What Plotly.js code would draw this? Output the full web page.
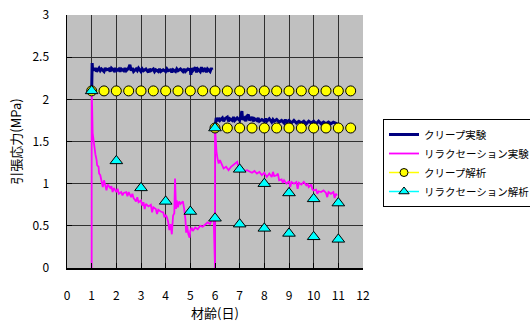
<!DOCTYPE html>
<html>
<head>
<meta charset="utf-8">
<script src="https://cdn.plot.ly/plotly-3.0.1.min.js"></script>
<style>html,body{margin:0;padding:0;background:#fff;}#chart{width:530px;height:325px;}</style>
</head>
<body>
<div id="chart"></div>
<script>
// Series names
var seriesNames = ['クリープ実験', 'リラクセーション実験', 'クリープ解析', 'リラクセーション解析'];
var xTickVals = [0,1,2,3,4,5,6,7,8,9,10,11,12];
var yTickVals = [0,0.5,1,1.5,2,2.5,3];

// Creep experiment (two loading stages), [day, MPa]
var creepExp1 = [[1.00,2.10],[1.00,2.36],[1.02,2.43],[1.04,2.34],[1.07,2.37],[1.10,2.34],[1.15,2.37],[1.20,2.33],[1.25,2.36],[1.30,2.37],[1.35,2.34],[1.40,2.36],[1.50,2.33],[1.55,2.37],[1.60,2.35],[1.70,2.36],[1.75,2.33],[1.80,2.37],[1.90,2.34],[1.95,2.37],[2.00,2.34],[2.10,2.36],[2.15,2.33],[2.20,2.36],[2.30,2.34],[2.35,2.37],[2.40,2.34],[2.50,2.37],[2.55,2.41],[2.60,2.34],[2.65,2.37],[2.70,2.33],[2.80,2.36],[2.85,2.34],[2.90,2.37],[3.00,2.33],[3.05,2.36],[3.10,2.34],[3.20,2.36],[3.30,2.32],[3.35,2.36],[3.40,2.34],[3.50,2.36],[3.55,2.33],[3.60,2.35],[3.70,2.33],[3.75,2.36],[3.80,2.33],[3.90,2.35],[4.00,2.33],[4.05,2.36],[4.10,2.34],[4.20,2.35],[4.25,2.32],[4.30,2.35],[4.40,2.33],[4.45,2.36],[4.50,2.34],[4.60,2.36],[4.70,2.33],[4.75,2.36],[4.80,2.33],[4.90,2.36],[5.00,2.35],[5.02,2.29],[5.05,2.37],[5.10,2.34],[5.20,2.38],[5.25,2.32],[5.30,2.36],[5.40,2.33],[5.45,2.38],[5.50,2.33],[5.60,2.37],[5.65,2.32],[5.70,2.36],[5.80,2.33],[5.85,2.37],[5.88,2.35]];
var creepExp2 = [[6.00,1.66],[6.02,1.74],[6.05,1.78],[6.10,1.74],[6.15,1.78],[6.20,1.75],[6.30,1.78],[6.35,1.74],[6.40,1.77],[6.50,1.79],[6.55,1.74],[6.60,1.77],[6.70,1.75],[6.75,1.79],[6.80,1.75],[6.90,1.78],[7.00,1.75],[7.05,1.80],[7.09,1.86],[7.12,1.76],[7.20,1.78],[7.25,1.74],[7.30,1.80],[7.35,1.82],[7.40,1.75],[7.50,1.79],[7.55,1.74],[7.60,1.77],[7.70,1.75],[7.75,1.78],[7.80,1.74],[7.90,1.76],[8.00,1.74],[8.05,1.77],[8.10,1.74],[8.20,1.77],[8.30,1.73],[8.35,1.76],[8.40,1.74],[8.50,1.76],[8.60,1.73],[8.70,1.75],[8.80,1.72],[8.85,1.76],[8.90,1.73],[9.00,1.75],[9.10,1.72],[9.20,1.75],[9.30,1.72],[9.40,1.74],[9.50,1.72],[9.60,1.74],[9.70,1.71],[9.80,1.74],[9.90,1.72],[10.00,1.74],[10.10,1.71],[10.20,1.74],[10.30,1.71],[10.40,1.73],[10.50,1.71],[10.60,1.73],[10.70,1.71],[10.80,1.73],[10.95,1.71]];

// Relaxation experiment, [day, MPa]
var relaxExp = [[1.0,0],[1.0,2.1],[1.02,1.9],[1.04,1.6],[1.06,1.55],[1.08,1.45],[1.12,1.40],[1.15,1.35],[1.2,1.28],[1.22,1.22],[1.28,1.2],[1.3,1.12],[1.35,1.1],[1.4,1.02],[1.45,0.96],[1.5,1.04],[1.55,0.98],[1.6,0.92],[1.65,0.99],[1.75,0.95],[1.8,0.97],[1.85,0.9],[1.9,0.95],[1.96,0.92],[2.0,0.9],[2.05,0.94],[2.1,0.88],[2.2,0.9],[2.25,0.86],[2.3,0.89],[2.4,0.9],[2.45,0.85],[2.5,0.9],[2.6,0.84],[2.65,0.88],[2.7,0.83],[2.8,0.79],[2.85,0.84],[2.9,0.78],[3.0,0.8],[3.05,0.74],[3.1,0.78],[3.15,0.7],[3.2,0.76],[3.3,0.73],[3.4,0.75],[3.45,0.66],[3.5,0.72],[3.6,0.7],[3.65,0.64],[3.7,0.69],[3.8,0.67],[3.9,0.66],[3.95,0.6],[4.0,0.63],[4.05,0.6],[4.1,0.55],[4.15,0.45],[4.2,0.52],[4.25,0.4],[4.3,0.62],[4.35,0.65],[4.38,1.06],[4.42,0.7],[4.45,0.8],[4.5,0.72],[4.55,0.79],[4.6,0.76],[4.7,0.79],[4.75,0.7],[4.8,0.58],[4.83,0.42],[4.87,0.5],[4.92,0.4],[4.97,0.36],[5.0,0.44],[5.05,0.48],[5.1,0.44],[5.2,0.48],[5.3,0.46],[5.4,0.5],[5.5,0.49],[5.6,0.52],[5.7,0.54],[5.8,0.52],[5.88,0.58],[5.95,0.56],[6.0,0],[6.0,1.68],[6.03,1.5],[6.06,1.38],[6.1,1.3],[6.15,1.24],[6.2,1.28],[6.3,1.22],[6.35,1.18],[6.45,1.2],[6.55,1.16],[6.65,1.2],[6.75,1.22],[6.85,1.24],[6.9,1.26],[6.95,1.2],[7.0,1.16],[7.1,1.18],[7.2,1.15],[7.3,1.16],[7.4,1.14],[7.5,1.13],[7.6,1.15],[7.7,1.12],[7.8,1.14],[7.9,1.1],[8.0,1.13],[8.1,1.08],[8.2,1.12],[8.3,1.08],[8.35,1.14],[8.4,1.09],[8.5,1.1],[8.55,1.12],[8.6,1.04],[8.7,1.05],[8.75,1.01],[8.8,1.04],[8.9,1.0],[9.0,1.03],[9.05,0.96],[9.1,1.02],[9.2,1.0],[9.3,1.02],[9.35,0.94],[9.4,1.01],[9.5,0.99],[9.6,1.02],[9.7,0.98],[9.75,1.0],[9.8,0.96],[9.9,0.99],[9.95,0.93],[10.0,0.92],[10.1,0.93],[10.15,0.88],[10.2,0.91],[10.3,0.9],[10.4,0.92],[10.5,0.89],[10.55,0.84],[10.6,0.9],[10.7,0.88],[10.8,0.9],[10.85,0.83],[10.9,0.88],[10.95,0.86]];

// Creep analysis
var creepAnaX1 = [1,1.5,2,2.5,3,3.5,4,4.5,5,5.5,6,6.5,7,7.5,8,8.5,9,9.5,10,10.5,11,11.5];
var creepAnaY1 = [2.1,2.1,2.1,2.1,2.1,2.1,2.1,2.1,2.1,2.1,2.1,2.1,2.1,2.1,2.1,2.1,2.1,2.1,2.1,2.1,2.1,2.1];
var creepAnaX2 = [6,6.5,7,7.5,8,8.5,9,9.5,10,10.5,11,11.5];
var creepAnaY2 = [1.66,1.66,1.66,1.66,1.66,1.66,1.66,1.66,1.66,1.66,1.66,1.66];

// Relaxation analysis
var relaxAnaX1 = [1,2,3,4,5,6,7,8,9,10,11];
var relaxAnaY1 = [2.1,1.27,0.95,0.79,0.67,0.59,0.52,0.47,0.41,0.37,0.34];
var relaxAnaX2 = [6,7,8,9,10,11];
var relaxAnaY2 = [1.66,1.17,1.0,0.89,0.82,0.77];

function col(arr, i){ return arr.map(function(p){ return p[i]; }); }

var creepX = col(creepExp1,0).concat([null], col(creepExp2,0));
var creepY = col(creepExp1,1).concat([null], col(creepExp2,1));

var traces = [
  {x: creepX, y: creepY, mode: 'lines', name: seriesNames[0], connectgaps: false,
   line: {color: '#000080', width: 3}},
  {x: col(relaxExp,0), y: col(relaxExp,1), mode: 'lines', name: seriesNames[1],
   line: {color: '#ff00ff', width: 1.8}},
  {x: creepAnaX1.concat([null], creepAnaX2), y: creepAnaY1.concat([null], creepAnaY2),
   mode: 'lines+markers', name: seriesNames[2], connectgaps: false, showlegend: false, legendgroup: 'ca',
   line: {color: '#ffff00', width: 1},
   marker: {symbol: 'circle', size: 10, color: '#ffff00', line: {color: '#000', width: 1}}},
  {x: [null], y: [null], mode: 'lines+markers', name: seriesNames[2], legendgroup: 'ca',
   line: {color: '#ffff00', width: 1.5},
   marker: {symbol: 'circle', size: 8, color: '#ffff00', line: {color: '#000', width: 1}}},
  {x: relaxAnaX1.concat([null], relaxAnaX2), y: relaxAnaY1.concat([null], relaxAnaY2),
   mode: 'markers', name: seriesNames[3], showlegend: false, legendgroup: 'ra',
   marker: {symbol: 'triangle-up', size: 11, color: '#00ffff', line: {color: '#000', width: 1}}},
  {x: [null], y: [null], mode: 'lines+markers', name: seriesNames[3], legendgroup: 'ra',
   line: {color: '#00ffff', width: 1.5},
   marker: {symbol: 'triangle-up', size: 9, color: '#00ffff', line: {color: '#000', width: 1}}}
];

var fnt = 'Noto Sans CJK JP, sans-serif';
var layout = {
  width: 530, height: 325,
  margin: {l: 67, r: 167, t: 15, b: 57},
  paper_bgcolor: '#ffffff', plot_bgcolor: '#c0c0c0',
  font: {family: fnt, size: 12, color: '#000'},
  showlegend: true,
  legend: {xref: 'container', yref: 'container', x: 383/530, y: 1 - 119/325,
    xanchor: 'left', yanchor: 'top',
    bgcolor: '#ffffff', bordercolor: '#000', borderwidth: 1,
    font: {family: fnt, size: 10.5, color: '#000'}, tracegroupgap: 0},
  xaxis: {range: [0, 12], tickvals: xTickVals, ticktext: xTickVals.map(String),
    showgrid: true, gridcolor: '#303030', gridwidth: 1,
    showline: true, linecolor: '#000', linewidth: 1.5,
    ticks: 'inside', ticklen: 5, tickcolor: '#000',
    ticklabelstandoff: 16, zeroline: false, fixedrange: true,
    title: {text: '材齢(日)', font: {family: fnt, size: 13}, standoff: 6}},
  yaxis: {range: [0, 3], tickvals: yTickVals, ticktext: yTickVals.map(String),
    showgrid: true, gridcolor: '#303030', gridwidth: 1,
    showline: true, linecolor: '#000', linewidth: 1.5,
    ticks: 'inside', ticklen: 5, tickcolor: '#000',
    ticklabelstandoff: 14, zeroline: false, fixedrange: true,
    title: {text: '引張応力(MPa)', font: {family: fnt, size: 13}, standoff: 8}}
};

Plotly.newPlot('chart', traces, layout, {displayModeBar: false, staticPlot: true});
</script>
</body>
</html>
